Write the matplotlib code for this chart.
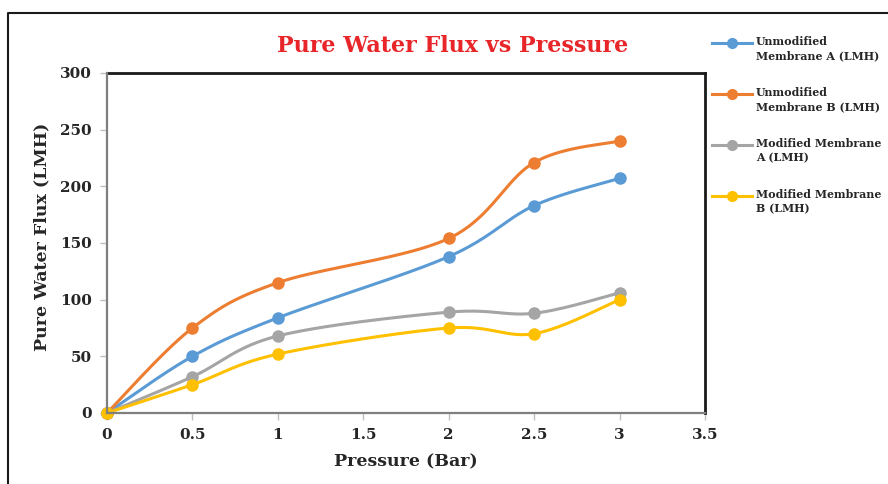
import numpy as np
import matplotlib
matplotlib.use("Agg")
import matplotlib.pyplot as plt
from matplotlib.lines import Line2D

# Pure water flux (LMH) measured at each transmembrane pressure (bar)
pressure = [0, 0.5, 1, 2, 2.5, 3]
unmod_a = [0, 50, 84, 138, 183, 207]
unmod_b = [0, 75, 115, 154, 221, 240]
mod_a = [0, 32, 68, 89, 88, 106]
mod_b = [0, 25, 52, 75, 70, 100]

series_labels = ["Unmodified\nMembrane A (LMH)", "Unmodified\nMembrane B (LMH)",
                 "Modified Membrane\nA (LMH)", "Modified Membrane\nB (LMH)"]
series_colors = ["#5B9BD5", "#ED7D31", "#A5A5A5", "#FFC000"]
x_ticks = [0, 0.5, 1, 1.5, 2, 2.5, 3, 3.5]
y_ticks = [0, 50, 100, 150, 200, 250, 300]

FONT = "DejaVu Serif"


def smooth_curve(xs, ys, n=40):
    """Catmull-Rom style Bezier smoothing through every point."""
    p = np.column_stack([xs, ys]).astype(float)
    pts = np.vstack([p[0], p, p[-1]])
    out = []
    t = np.linspace(0, 1, n)[:, None]
    for i in range(1, len(pts) - 2):
        p0, p1, p2, p3 = pts[i - 1], pts[i], pts[i + 1], pts[i + 2]
        c1 = p1 + (p2 - p0) / 6.0
        c2 = p2 - (p3 - p1) / 6.0
        seg = ((1 - t) ** 3) * p1 + 3 * ((1 - t) ** 2) * t * c1 \
            + 3 * (1 - t) * t ** 2 * c2 + t ** 3 * p2
        out.append(seg if i == 1 else seg[1:])
    c = np.vstack(out)
    return c[:, 0], c[:, 1]


fig = plt.figure(figsize=(8.88, 4.84), dpi=100)
ax = fig.add_axes([107 / 888, 1 - 413 / 484, (705 - 107) / 888, (413 - 73) / 484])

all_series = [unmod_a, unmod_b, mod_a, mod_b]
for vals, col in zip(all_series, series_colors):
    sx, sy = smooth_curve(pressure, vals)
    ax.plot(sx, sy, color=col, lw=2.2, solid_capstyle="round", zorder=3)
    ax.plot(pressure, vals, "o", color=col, ms=8, zorder=4, clip_on=False)

ax.set_xlim(0, 3.5)
ax.set_ylim(0, 300)
ax.set_xticks(x_ticks)
ax.set_xticklabels([f"{v:g}" for v in x_ticks])
ax.set_yticks(y_ticks)
ax.set_yticklabels([str(v) for v in y_ticks])

for s in ("top", "right"):
    ax.spines[s].set_color("#1a1a1a")
    ax.spines[s].set_linewidth(2.0)
for s in ("left", "bottom"):
    ax.spines[s].set_color("#7f7f7f")
    ax.spines[s].set_linewidth(1.6)
    ax.spines[s].set_zorder(5)

ax.tick_params(axis="both", direction="out", length=5, width=1, color="#bfbfbf",
               labelsize=11, labelcolor="#262626", pad=6)
for lab in ax.get_xticklabels() + ax.get_yticklabels():
    lab.set_fontfamily(FONT)
    lab.set_fontweight("bold")

ax.set_xlabel("Pressure (Bar)", fontsize=12.5, fontweight="bold", family=FONT,
              color="#262626", labelpad=8)
fig.text(42 / 888, 1 - 237 / 484, "Pure Water Flux (LMH)", rotation=90,
         fontsize=12.5, fontweight="bold", family=FONT, color="#262626",
         ha="center", va="center")

fig.text(453 / 888, 1 - 46 / 484, "Pure Water Flux vs Pressure", fontsize=16,
         fontweight="bold", family=FONT, color="#E8262A", ha="center", va="center")

# legend drawn alongside the plot, marker level with the first text line
leg_y = [43, 94, 145, 196]
for yy, lab, col in zip(leg_y, series_labels, series_colors):
    yf = 1 - yy / 484
    fig.add_artist(Line2D([712 / 888, 752 / 888], [yf, yf], color=col, lw=2.2,
                          transform=fig.transFigure))
    fig.add_artist(Line2D([732 / 888], [yf], marker="o", ms=7, color=col,
                          transform=fig.transFigure))
    fig.text(756 / 888, yf + 7 / 484, lab, fontsize=7.9, fontweight="bold",
             family=FONT, color="#262626", ha="left", va="top", linespacing=1.35)

# chart area border
fig.add_artist(Line2D([8 / 888, 8 / 888, 1.0], [0.0, 1 - 13 / 484, 1 - 13 / 484],
                      color="#1a1a1a", lw=1.5, transform=fig.transFigure))

fig.savefig("out.png", dpi=100)
